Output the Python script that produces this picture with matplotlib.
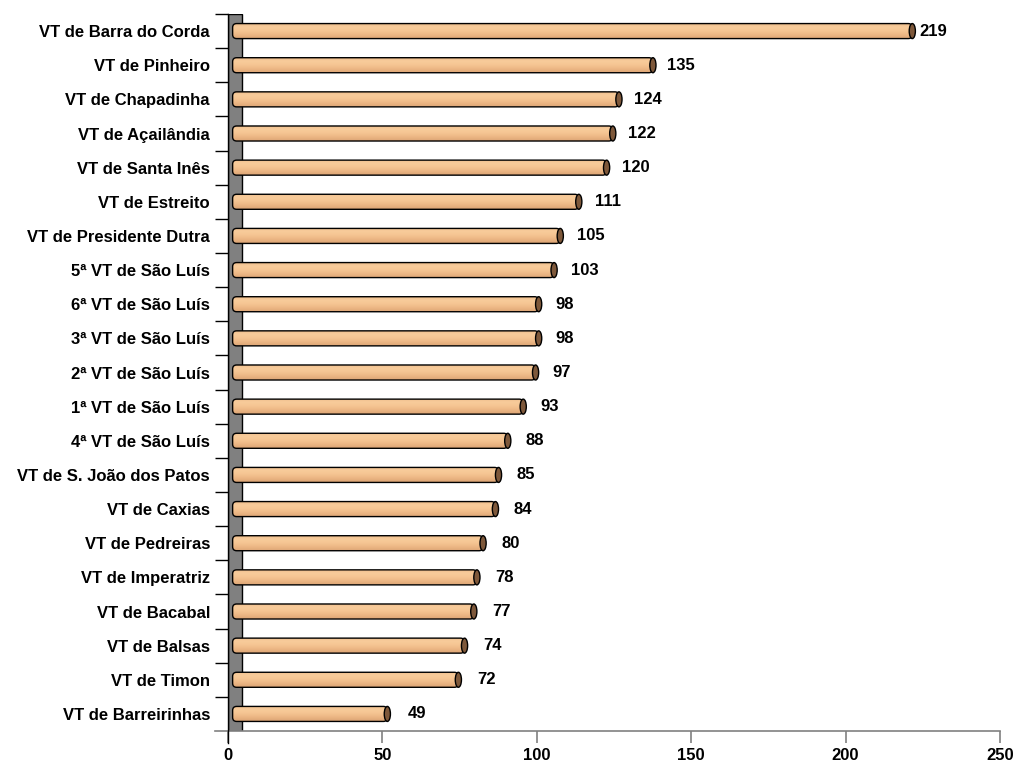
import numpy as np
import matplotlib.pyplot as plt
from matplotlib.patches import FancyBboxPatch, Ellipse, Rectangle
from matplotlib.colors import LinearSegmentedColormap

plt.rcParams['font.family'] = ['Liberation Sans', 'DejaVu Sans']

# data, listed top to bottom as in the chart
varas = ["VT de Barra do Corda", "VT de Pinheiro", "VT de Chapadinha",
         "VT de Açailândia", "VT de Santa Inês", "VT de Estreito",
         "VT de Presidente Dutra", "5ª VT de São Luís", "6ª VT de São Luís",
         "3ª VT de São Luís", "2ª VT de São Luís", "1ª VT de São Luís",
         "4ª VT de São Luís", "VT de S. João dos Patos", "VT de Caxias",
         "VT de Pedreiras", "VT de Imperatriz", "VT de Bacabal",
         "VT de Balsas", "VT de Timon", "VT de Barreirinhas"]
valores = [219, 135, 124, 122, 120, 111, 105, 103, 98, 98, 97, 93, 88, 85,
           84, 80, 78, 77, 74, 72, 49]
xticks = [0, 50, 100, 150, 200, 250]

varas = varas[::-1]
valores = valores[::-1]
n = len(valores)

fig = plt.figure(figsize=(10.16, 7.66), dpi=100)
ax = fig.add_axes([228/1016, 35/766, 772/1016, 717/766])
ax.set_xlim(0, 250)
ax.set_ylim(-0.5, n - 0.5)
for s in ax.spines.values():
    s.set_visible(False)

# side wall (3d look)
ax.add_patch(Rectangle((0, -0.5), 4.5, n, facecolor='#808080',
                       edgecolor='black', lw=1, zorder=1))

# floor line and left axis line
ax.plot([-4.2, 250], [-0.5, -0.5], color='#808080', lw=1.2, clip_on=False, zorder=2)
ax.plot([0, 0], [-0.85, n - 0.5], color='black', lw=1, clip_on=False, zorder=3)

cyl = LinearSegmentedColormap.from_list(
    'cyl', ['#EDBB8A', '#F8CC9B', '#F5C592', '#ECB684', '#DCA575'])
grad = np.linspace(0, 1, 64).reshape(-1, 1)

h = 0.44
asp = (772/250) / (717/n)
for i, v in enumerate(valores):
    x0, x1 = 1.5, v + 2.6
    body = FancyBboxPatch((x0, i - h/2), x1 - x0, h,
                          boxstyle="round,pad=0,rounding_size=1.3",
                          mutation_aspect=asp, facecolor='none',
                          edgecolor='black', lw=1, zorder=4)
    ax.add_patch(body)
    im = ax.imshow(grad, cmap=cyl, aspect='auto', zorder=3.5,
                   extent=(x0, x1, i - h/2, i + h/2), interpolation='bilinear')
    im.set_clip_path(body)
    ax.add_patch(Ellipse((x1, i), 2.0, h, facecolor='#7E583A',
                         edgecolor='black', lw=1, zorder=5))
    ax.text(10.5 + 0.975 * v, i, str(v), ha='left', va='center',
            fontsize=12, fontweight='bold', zorder=6)

ax.set_xlim(0, 250)
ax.set_ylim(-0.5, n - 0.5)

ax.set_xticks(xticks)
ax.set_xticklabels([str(t) for t in xticks], fontsize=12, fontweight='bold')
ax.tick_params(axis='x', length=8.6, color='#808080', width=1.2, pad=4)
ax.xaxis.get_major_ticks()[0].tick1line.set_color('black')

ax.set_yticks(range(n))
ax.set_yticklabels(varas, fontsize=12, fontweight='bold')
ax.tick_params(axis='y', which='major', length=0, pad=13)
ax.set_yticks(np.arange(0.5, n, 1), minor=True)
ax.tick_params(axis='y', which='minor', length=9.4, color='black', width=1)

fig.savefig('out.png', dpi=100)
